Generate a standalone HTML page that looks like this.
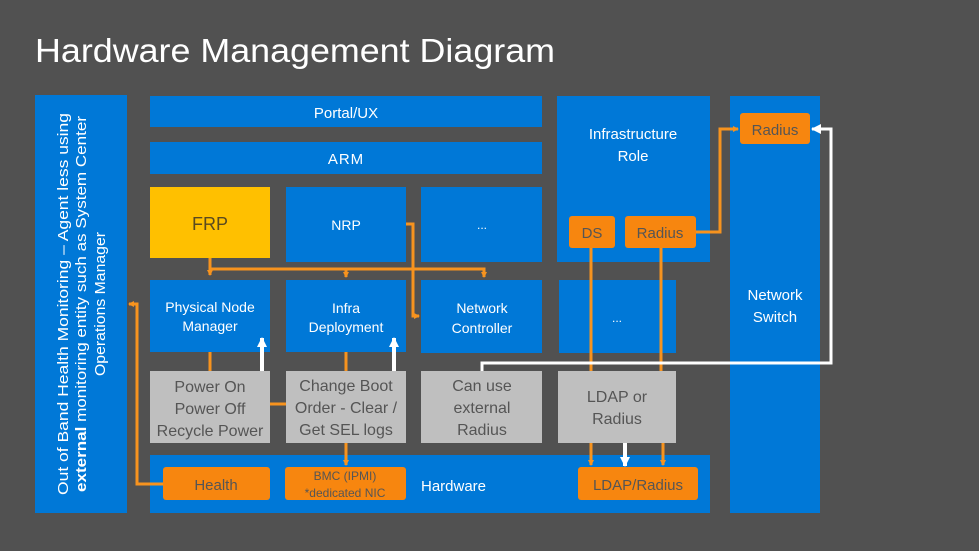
<!DOCTYPE html>
<html><head><meta charset="utf-8"><style>
html,body{margin:0;padding:0;background:#515151;}
svg{display:block;font-family:"Liberation Sans",sans-serif;}
</style></head><body>
<svg width="979" height="551" viewBox="0 0 979 551" xmlns="http://www.w3.org/2000/svg">
<defs>
<marker id="ao" markerWidth="6" markerHeight="6" refX="5" refY="3" orient="auto" markerUnits="userSpaceOnUse"><path d="M0,0 L6,3 L0,6 z" fill="#f7931e"/></marker>
<marker id="aw" markerWidth="10" markerHeight="10" refX="9" refY="5" orient="auto" markerUnits="userSpaceOnUse"><path d="M0,0 L10,5 L0,10 z" fill="#fff"/></marker>
</defs>
<rect width="979" height="551" fill="#515151"/>
<text x="35" y="62" font-size="33" fill="#fff" textLength="520" lengthAdjust="spacingAndGlyphs">Hardware Management Diagram</text>

<g fill="#0078d7">
<rect x="35" y="95" width="92" height="418"/>
<rect x="150" y="96" width="392" height="31"/>
<rect x="150" y="142" width="392" height="32"/>
<rect x="286" y="187" width="120" height="75"/>
<rect x="421" y="187" width="121" height="75"/>
<rect x="557" y="96" width="153" height="166"/>
<rect x="730" y="96" width="90" height="417"/>
<rect x="150" y="280" width="120" height="72"/>
<rect x="286" y="280" width="120" height="72"/>
<rect x="421" y="280" width="121" height="73"/>
<rect x="559" y="280" width="117" height="73"/>
<rect x="150" y="455" width="560" height="58"/>
</g>
<rect x="150" y="187" width="120" height="71" fill="#ffc000"/>
<g fill="#bfbfbf">
<rect x="150" y="371" width="120" height="72"/>
<rect x="286" y="371" width="120" height="72"/>
<rect x="421" y="371" width="121" height="72"/>
<rect x="558" y="371" width="118" height="72"/>
</g>
<g fill="#f7860f">
<rect x="569" y="216" width="46" height="32" rx="3"/>
<rect x="625" y="216" width="71" height="32" rx="3"/>
<rect x="740" y="113" width="70" height="31" rx="3"/>
<rect x="163" y="467" width="107" height="33" rx="3"/>
<rect x="285" y="467" width="121" height="33" rx="3"/>
<rect x="578" y="467" width="120" height="33" rx="3"/>
</g>

<g stroke="#f7931e" stroke-width="3" fill="none">
<path d="M210 258 V275" marker-end="url(#ao)"/>
<path d="M210 269 H484 V277" marker-end="url(#ao)"/>
<path d="M346 269 V277" marker-end="url(#ao)"/>
<path d="M406 224 H413 V316 H419" marker-end="url(#ao)"/>
<path d="M210 352 V371"/>
<path d="M346 352 V371"/>
<path d="M270 404 H286"/>
<path d="M346 443 V465" marker-end="url(#ao)"/>
<path d="M163 484 H137 V304 H129" marker-end="url(#ao)"/>
<path d="M591 248 V371"/>
<path d="M661 248 V371"/>
<path d="M591 443 V465" marker-end="url(#ao)"/>
<path d="M663 443 V465" marker-end="url(#ao)"/>
<path d="M696 232 H720 V129 H738" marker-end="url(#ao)"/>
</g>
<g stroke="#fff" stroke-width="4" fill="none">
<path d="M262 371 V338" marker-end="url(#aw)"/>
<path d="M394 371 V338" marker-end="url(#aw)"/>
<path d="M625 443 V466" marker-end="url(#aw)"/>
</g>
<path d="M482 371 V363 H831 V129 H812" stroke="#fff" stroke-width="3" fill="none" marker-end="url(#aw)"/>

<g fill="#fff" font-size="15" text-anchor="middle">
<text x="346" y="118">Portal/UX</text>
<text x="346" y="164" letter-spacing="1">ARM</text>
<text x="346" y="230" font-size="14">NRP</text>
<text x="482" y="229" font-size="12">...</text>
<text x="633" y="139">Infrastructure</text>
<text x="633" y="161">Role</text>
<text x="775" y="300">Network</text>
<text x="775" y="322">Switch</text>
<text x="210" y="312" font-size="14">Physical Node</text>
<text x="210" y="331" font-size="14">Manager</text>
<text x="346" y="313" font-size="14">Infra</text>
<text x="346" y="332" font-size="14">Deployment</text>
<text x="482" y="313" font-size="14">Network</text>
<text x="482" y="333" font-size="14">Controller</text>
<text x="617" y="322" font-size="12">...</text>
</g>
<text x="421" y="491" fill="#fff" font-size="15">Hardware</text>
<text x="210" y="230" font-size="18" fill="#5a4a20" text-anchor="middle">FRP</text>
<g fill="#555" font-size="16" text-anchor="middle">
<text x="210" y="392">Power On</text>
<text x="210" y="414">Power Off</text>
<text x="210" y="436">Recycle Power</text>
<text x="346" y="391">Change Boot</text>
<text x="346" y="413">Order - Clear /</text>
<text x="346" y="435">Get SEL logs</text>
<text x="482" y="391">Can use</text>
<text x="482" y="413">external</text>
<text x="482" y="435">Radius</text>
<text x="617" y="402">LDAP or</text>
<text x="617" y="424">Radius</text>
</g>
<g fill="#555" font-size="15" text-anchor="middle">
<text x="592" y="238">DS</text>
<text x="660" y="238">Radius</text>
<text x="775" y="135">Radius</text>
<text x="216" y="490">Health</text>
<text x="638" y="490">LDAP/Radius</text>
<text x="345" y="480" font-size="12">BMC (IPMI)</text>
<text x="345" y="497" font-size="12">*dedicated NIC</text>
</g>
<g transform="translate(81,304) rotate(-90)" fill="#fff" font-size="15" text-anchor="middle">
<text x="0" y="-13" textLength="382" lengthAdjust="spacingAndGlyphs">Out of Band Health Monitoring – Agent less using</text>
<text x="0" y="5" textLength="376" lengthAdjust="spacingAndGlyphs"><tspan font-weight="bold">external</tspan> monitoring entity such as System Center</text>
<text x="0" y="24" textLength="144" lengthAdjust="spacingAndGlyphs">Operations Manager</text>
</g>
</svg>
</body></html>
